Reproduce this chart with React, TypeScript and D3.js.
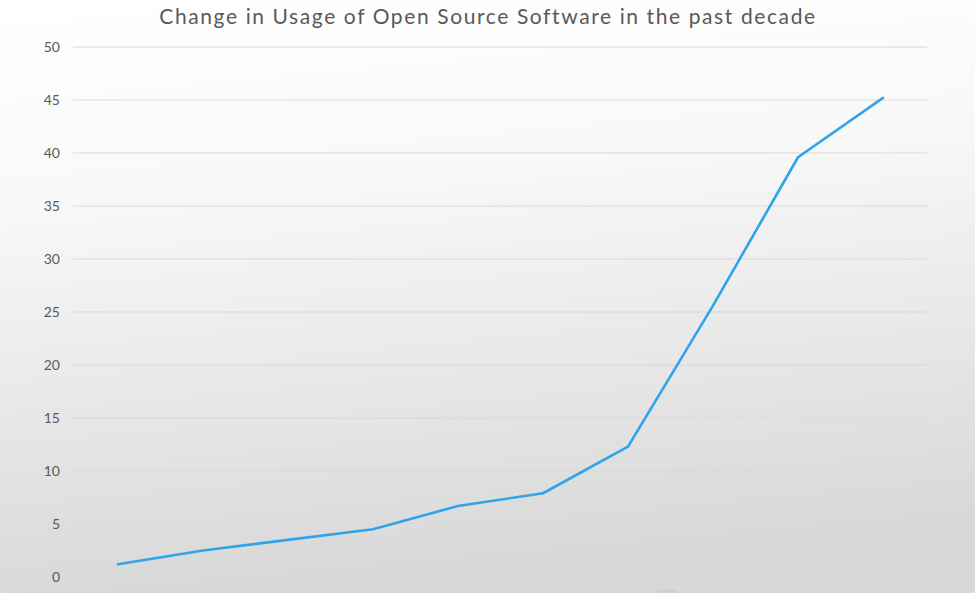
import * as d3 from "d3";
import React, { useEffect, useRef } from "react";

const years = ["2008", "2009", "2010", "2011", "2012", "2013", "2014", "2015", "2016", "2017"];
const usage = [1.2, 2.5, 3.5, 4.5, 6.7, 7.9, 12.3, 25.6, 39.6, 45.2];
const yTicks = [0, 5, 10, 15, 20, 25, 30, 35, 40, 45, 50];
const title = "Change in Usage of Open Source Software in the past decade";

const App = () => {
  const ref = useRef<SVGSVGElement>(null);

  useEffect(() => {
    const width = 975;
    const height = 593;
    const font = "'Century Gothic', 'Lato', 'DejaVu Sans', sans-serif";

    const svg = d3.select(ref.current).attr("width", width).attr("height", height);
    svg.selectAll("*").remove();

    const defs = svg.append("defs");
    const grad = defs
      .append("linearGradient")
      .attr("id", "bg")
      .attr("x1", 0)
      .attr("y1", 0)
      .attr("x2", 0.15)
      .attr("y2", 1);
    grad.append("stop").attr("offset", 0).attr("stop-color", "#ffffff");
    grad.append("stop").attr("offset", 0.35).attr("stop-color", "#f8f8f8");
    grad.append("stop").attr("offset", 1).attr("stop-color", "#d8d8d8");

    svg.append("rect").attr("width", width).attr("height", height).attr("fill", "url(#bg)");

    // small shadow blob at the bottom edge
    svg
      .append("ellipse")
      .attr("cx", 667)
      .attr("cy", 598)
      .attr("rx", 16)
      .attr("ry", 9)
      .attr("fill", "#cfcfcf");

    const x = d3.scalePoint().domain(years).range([118, 883]);
    const y = d3.scaleLinear().domain([0, 50]).range([577, 47]);

    // gridlines
    svg
      .append("g")
      .selectAll("line")
      .data(yTicks)
      .enter()
      .append("line")
      .attr("x1", 73)
      .attr("x2", 927)
      .attr("y1", (d) => y(d))
      .attr("y2", (d) => y(d))
      .attr("stroke", "#d9d9d9")
      .attr("stroke-width", 1);

    // y labels
    svg
      .append("g")
      .selectAll("text")
      .data(yTicks)
      .enter()
      .append("text")
      .attr("x", 60)
      .attr("y", (d) => y(d))
      .attr("dy", "0.35em")
      .attr("text-anchor", "end")
      .attr("fill", "#595959")
      .style("font-family", font)
      .style("font-size", "14px")
      .text((d) => d);

    const line = d3
      .line<number>()
      .x((d, i) => x(years[i]) as number)
      .y((d) => y(d));

    svg
      .append("path")
      .datum(usage)
      .attr("d", line)
      .attr("fill", "none")
      .attr("stroke", "#2fa4ea")
      .attr("stroke-width", 2.6)
      .attr("stroke-linejoin", "round")
      .attr("stroke-linecap", "round");

    svg
      .append("text")
      .attr("x", 488)
      .attr("y", 24)
      .attr("text-anchor", "middle")
      .attr("fill", "#595959")
      .style("font-family", font)
      .style("font-size", "21px")
      .style("letter-spacing", "1.6px")
      .text(title);
  }, []);

  return <svg ref={ref} style={{ position: "absolute", left: 0, top: 0 }}></svg>;
};

export default App;
